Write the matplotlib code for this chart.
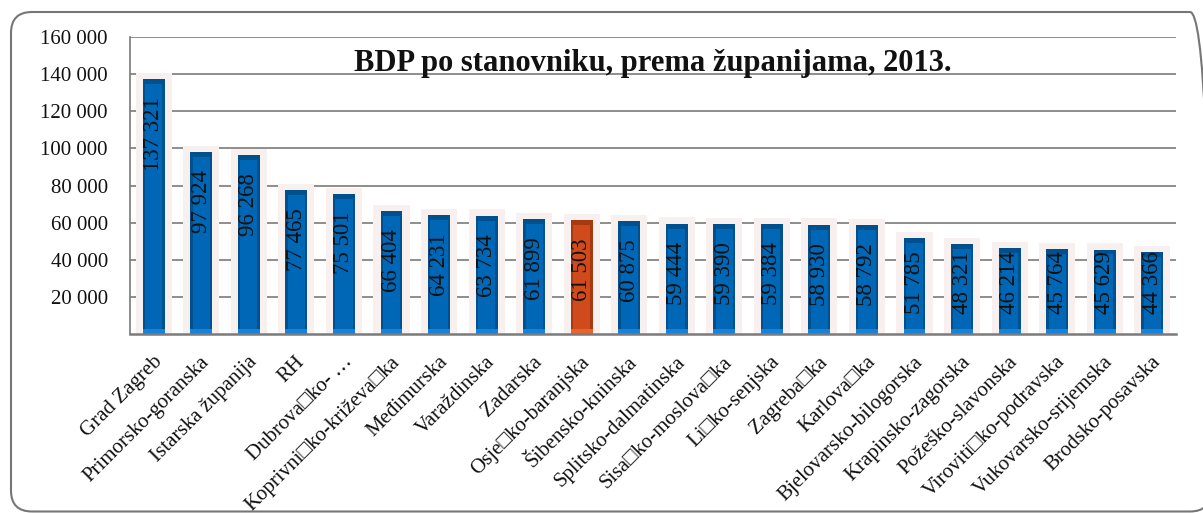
import matplotlib
matplotlib.use("Agg")
import matplotlib.pyplot as plt
import matplotlib.patches as mpatches
import numpy as np

# ---- data ----
categories = [
    "Grad Zagreb", "Primorsko-goranska", "Istarska županija", "RH",
    "Dubrova□ko- …", "Koprivni□ko-križeva□ka", "Međimurska", "Varaždinska",
    "Zadarska", "Osje□ko-baranjska", "Šibensko-kninska", "Splitsko-dalmatinska",
    "Sisa□ko-moslova□ka", "Li□ko-senjska", "Zagreba□ka", "Karlova□ka",
    "Bjelovarsko-bilogorska", "Krapinsko-zagorska", "Požeško-slavonska",
    "Viroviti□ko-podravska", "Vukovarsko-srijemska", "Brodsko-posavska",
]
values = [137321, 97924, 96268, 77465, 75501, 66404, 64231, 63734, 61899,
          61503, 60875, 59444, 59390, 59384, 58930, 58792, 51785, 48321,
          46214, 45764, 45629, 44366]
highlight = "Osje□ko-baranjska"
title = "BDP po stanovniku, prema županijama, 2013."
yticks = [20000, 40000, 60000, 80000, 100000, 120000, 140000, 160000]

SERIF = ["Liberation Serif", "DejaVu Serif"]
plt.rcParams["font.family"] = SERIF

W, H = 1203, 513
fig = plt.figure(figsize=(W / 100, H / 100), dpi=100)
fig.patch.set_facecolor("white")

# outer rounded frame
frame = mpatches.FancyBboxPatch(
    (11 / 100, 1.5 / 100), (1211 - 11) / 100, (501 - 1.5) / 100,
    boxstyle="round,pad=0,rounding_size=0.21",
    transform=fig.dpi_scale_trans, facecolor="none",
    edgecolor="#767676", linewidth=1.5, zorder=10)
fig.patches.append(frame)

ax = fig.add_axes([130 / W, (H - 334.4) / H, 1046 / W, 297.7 / H])
ax.set_facecolor("none")
n = len(values)
x = np.arange(n)
ax.set_xlim(-0.5, n - 0.5)
ax.set_ylim(0, 160000)

# grid
ax.set_yticks(yticks)
ax.set_yticklabels([f"{v:,}".replace(",", " ") for v in yticks], fontsize=15)
ax.yaxis.grid(True, color="#7a7a7a", linewidth=1.2, zorder=1)
ax.set_axisbelow(True)
ax.tick_params(axis="y", length=0, pad=16, colors="#111111")
ax.tick_params(axis="x", length=0)
ax.set_xticks([])
for s in ["top", "right"]:
    ax.spines[s].set_visible(False)
ax.spines["left"].set_color("#7a7a7a")
ax.spines["left"].set_linewidth(1.2)
ax.spines["bottom"].set_color("#7a7a7a")
ax.spines["bottom"].set_linewidth(1.8)
ax.spines["bottom"].set_zorder(6)

vals = np.array(values, dtype=float)
is_hi = np.array([c == highlight for c in categories])
main = np.where(is_hi, "#d04b1b", "#0067b6")
dark = np.where(is_hi, "#a8380f", "#00508e")
light = np.where(is_hi, "#e8642e", "#1881d8")

# halo
ax.bar(x, vals + 3400, width=0.76, color="#f7f0ef", zorder=2)
# outer (dark edges)
ax.bar(x, vals, width=0.46, color=dark, zorder=3)
# lighter bottom bevel
ax.bar(x, 3000, width=0.46, color=light, zorder=3.5)
# inner face
ax.bar(x, vals - 5600, bottom=3000, width=0.36, color=main, zorder=4)

# data labels
for xi, v in zip(x, vals):
    txt = f"{int(v):,}".replace(",", " ")
    if v > 55800:
        ax.annotate(txt, (xi, v), xytext=(0, -13), textcoords="offset points",
                    rotation=90, ha="center", va="top", fontsize=16.5,
                    color="#111111", zorder=7)
    else:
        ax.annotate(txt, (xi, 0), xytext=(0, 15), textcoords="offset points",
                    rotation=90, ha="center", va="bottom", fontsize=16.5,
                    color="#111111", zorder=7)

# category labels
for xi, c in zip(x, categories):
    ax.annotate(c, (xi, 0), xytext=(4, -18), textcoords="offset points",
                rotation=45, rotation_mode="anchor", ha="right", va="center",
                fontsize=15, color="#111111", annotation_clip=False)

ax.text(0.5, 0.885, title, transform=ax.transAxes, ha="center",
        va="baseline", fontsize=22, fontweight="bold", color="#111111",
        zorder=8)

fig.savefig("out.png", dpi=100, facecolor="white")
